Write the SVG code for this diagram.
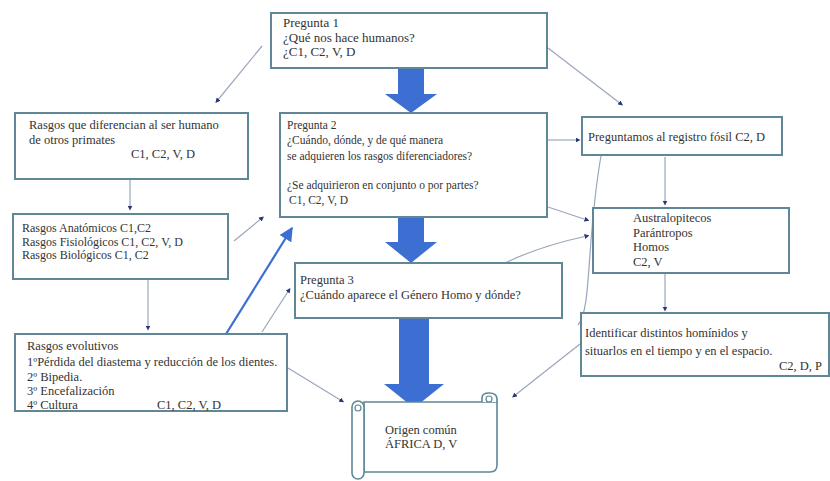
<svg xmlns="http://www.w3.org/2000/svg" width="830" height="481" viewBox="0 0 830 481">
<defs>
<style>
.box{fill:#ffffff;stroke:#5f8796;stroke-width:2}
.t{font-family:"Liberation Serif","Times New Roman",serif;font-size:12.5px;fill:#333333}
.s{font-size:11.5px}
.l{font-size:13px}
.c{fill:none;stroke:#9aa6bd;stroke-width:1.2}
.blk{fill:#3c6fd1}
</style>
<marker id="dot" viewBox="0 0 6 6" refX="3" refY="3" markerWidth="5" markerHeight="5" orient="auto" markerUnits="userSpaceOnUse">
<path d="M0,0 L6,3 L0,6 Z" fill="#27357e"/>
</marker>
<marker id="tri" viewBox="0 0 10 10" refX="9" refY="5" markerWidth="14" markerHeight="14" orient="auto" markerUnits="userSpaceOnUse">
<path d="M0,0 L10,5 L0,10 Z" fill="#3c6fd1"/>
</marker>
</defs>
<rect width="830" height="481" fill="#ffffff"/>

<g id="connectors">
<line class="c" x1="262" y1="46" x2="217" y2="101" marker-end="url(#dot)"/>
<line class="c" x1="548" y1="48" x2="621" y2="104" marker-end="url(#dot)"/>
<line class="c" x1="130" y1="180" x2="130" y2="208" marker-end="url(#dot)"/>
<line class="c" x1="234" y1="241" x2="262" y2="218" marker-end="url(#dot)"/>
<line x1="226" y1="334" x2="292" y2="228" stroke="#3c6fd1" stroke-width="2.2" marker-end="url(#tri)"/>
<line class="c" x1="262" y1="332" x2="289" y2="290" marker-end="url(#dot)"/>
<line class="c" x1="148" y1="280" x2="148" y2="328" marker-end="url(#dot)"/>
<line class="c" x1="548" y1="140" x2="578" y2="140" marker-end="url(#dot)"/>
<line class="c" x1="548" y1="207" x2="587" y2="220" marker-end="url(#dot)"/>
<path class="c" d="M505,263 Q540,246 587,236" marker-end="url(#dot)"/>
<line class="c" x1="665" y1="157" x2="665" y2="203" marker-end="url(#dot)"/>
<line class="c" x1="665" y1="274" x2="665" y2="309" marker-end="url(#dot)"/>
<path class="c" d="M601,156 C586,240 592,310 578,325"/>
<line class="c" x1="580" y1="344" x2="514" y2="396" marker-end="url(#dot)"/>
<line class="c" x1="288" y1="368" x2="342" y2="401" marker-end="url(#dot)"/>
<path class="blk" d="M398,68 H424 V94 H437 L411,113 L385,94 H398 Z"/>
<path class="blk" d="M398,217 H424 V242 H437 L411,263 L385,242 H398 Z"/>
<path class="blk" d="M399,318 H429 V384 H444 L414,408 L384,384 H399 Z"/>
</g>

<g id="pregunta1">
<rect class="box" x="271" y="13" width="276" height="55"/>
<text class="t l" x="283" y="27">Pregunta 1</text>
<text class="t l" x="283" y="42">¿Qué nos hace humanos?</text>
<text class="t l" x="283" y="56">¿C1, C2, V, D</text>
</g>

<g id="rasgos-diferencian">
<rect class="box" x="15" y="113" width="233" height="66"/>
<text class="t" x="29" y="129">Rasgos que diferencian  al ser humano</text>
<text class="t" x="29" y="144">de otros primates</text>
<text class="t" x="131" y="158">C1, C2, V, D</text>
</g>

<g id="pregunta2">
<rect class="box" x="280" y="113" width="267" height="104"/>
<text class="t s" x="287" y="129">Pregunta 2</text>
<text class="t s" x="287" y="144">¿Cuándo, dónde, y de qué manera</text>
<text class="t s" x="287" y="160">se adquieren los rasgos diferenciadores?</text>
<text class="t s" x="287" y="189">¿Se adquirieron en conjunto o por partes?</text>
<text class="t s" x="289" y="204">C1, C2, V, D</text>
</g>

<g id="registro-fosil">
<rect class="box" x="582" y="117" width="200" height="38"/>
<text class="t" x="588" y="141">Preguntamos al registro fósil C2, D</text>
</g>

<g id="homininos">
<rect class="box" x="593" y="208" width="196" height="65"/>
<text class="t" x="633" y="222">Australopitecos</text>
<text class="t" x="633" y="237">Parántropos</text>
<text class="t" x="633" y="251">Homos</text>
<text class="t" x="633" y="266">C2, V</text>
</g>

<g id="rasgos-tipos">
<rect class="box" x="13" y="214" width="215" height="65"/>
<text class="t" style="font-size:12px" x="22" y="232">Rasgos Anatómicos C1,C2</text>
<text class="t" style="font-size:12px" x="22" y="245.5">Rasgos Fisiológicos C1, C2, V, D</text>
<text class="t" style="font-size:12px" x="22" y="259">Rasgos Biológicos C1, C2</text>
</g>

<g id="pregunta3">
<rect class="box" x="295" y="263" width="267" height="55"/>
<text class="t" x="300" y="284">Pregunta 3</text>
<text class="t" x="300" y="298.5">¿Cuándo aparece el Género Homo y dónde?</text>
</g>

<g id="rasgos-evolutivos">
<rect class="box" x="15" y="334" width="272" height="77"/>
<text class="t" x="27" y="350">Rasgos evolutivos</text>
<text class="t" x="27" y="366">1ºPérdida del diastema y reducción de los dientes.</text>
<text class="t" x="27" y="381">2º Bipedia.</text>
<text class="t" x="27" y="394.5">3º Encefalización</text>
<text class="t" x="27" y="409">4º Cultura</text>
<text class="t" x="157" y="409">C1, C2, V, D</text>
</g>

<g id="identificar">
<rect class="box" x="581" y="313" width="248" height="63"/>
<text class="t" x="585" y="337">Identificar distintos homínidos y</text>
<text class="t" x="585" y="355">situarlos en el tiempo y en el espacio.</text>
<text class="t" x="822" y="370" text-anchor="end">C2, D, P</text>
</g>

<g id="origen-comun">
<path d="M364,402 H497 V465 Q497,472 490,472 H364 Z" fill="#ffffff" stroke="#5f8796" stroke-width="1.6"/>
<path d="M482,402 V398 Q482,393 489,393 Q497,393 497,399 V402" fill="#ffffff" stroke="#5f8796" stroke-width="1.6"/>
<circle cx="489" cy="399" r="3" fill="none" stroke="#5f8796" stroke-width="1.2"/>
<rect x="352" y="401" width="12" height="78" rx="6" fill="#ffffff" stroke="#5f8796" stroke-width="1.6"/>
<circle cx="358" cy="408" r="3" fill="none" stroke="#5f8796" stroke-width="1.2"/>
<text class="t" x="385" y="434">Origen común</text>
<text class="t" x="385" y="448">ÁFRICA D, V</text>
</g>
</svg>
